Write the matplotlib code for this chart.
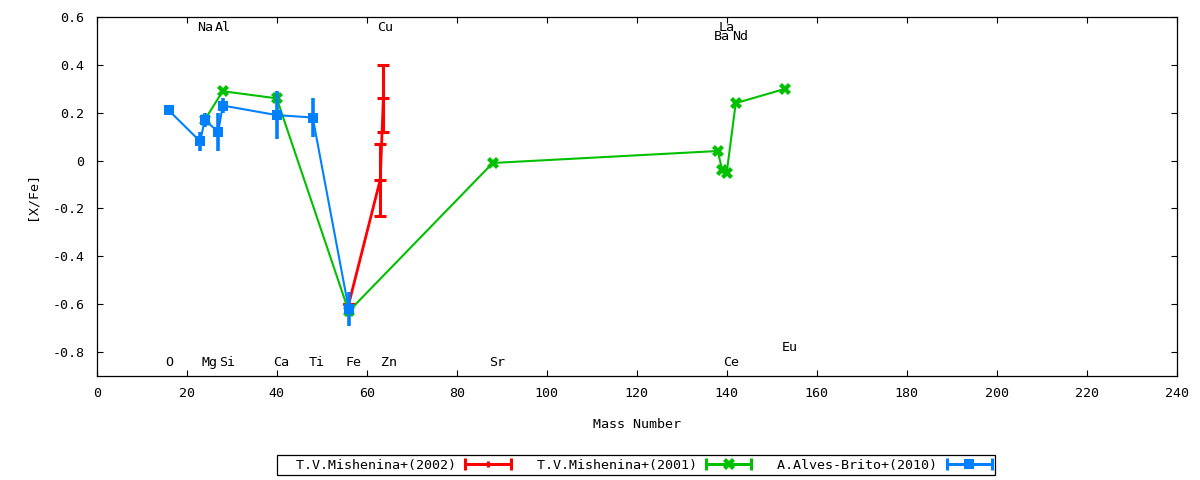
import numpy as np
import matplotlib
matplotlib.use("Agg")
import matplotlib.pyplot as plt
from matplotlib.lines import Line2D
from matplotlib.legend_handler import HandlerLine2D, HandlerTuple

RED = "#FF0000"
GREEN = "#00C000"
BLUE = "#0080FF"
FONT = "DejaVu Sans Mono"
FS = 9.6

plt.rcParams.update({
    "font.family": FONT,
    "font.size": FS,
    "axes.unicode_minus": False,
})

# ---- data -------------------------------------------------------------------
# T.V.Mishenina+(2002)
mish02_mass = [56, 63.0, 63.7]
mish02_xfe = [-0.60, -0.08, 0.26]
mish02_err = [0.0, 0.15, 0.14]

# T.V.Mishenina+(2001)
mish01_mass = [24, 28, 40, 56, 88, 138, 139, 140, 142, 153]
mish01_xfe = [0.17, 0.29, 0.26, -0.63, -0.01, 0.04, -0.04, -0.05, 0.24, 0.30]

# A.Alves-Brito+(2010)
alves_mass = [16, 23, 24, 27, 28, 40, 48, 56]
alves_xfe = [0.21, 0.08, 0.17, 0.12, 0.23, 0.19, 0.18, -0.62]
alves_err = [0.0, 0.04, 0.03, 0.08, 0.03, 0.10, 0.08, 0.07]

# element labels (name, mass number)
elem_names = ["O", "Na", "Mg", "Al", "Si", "Ca", "Ti", "Fe", "Cu", "Zn",
              "Sr", "Ba", "La", "Ce", "Nd", "Eu"]
elem_mass = [16, 23, 24, 27, 28, 40, 48, 56, 63, 64, 88, 138, 139, 140, 142, 153]
# vertical placement of each label (staggered like the original)
label_y = {"Na": 0.558, "Al": 0.558, "Cu": 0.558, "La": 0.558,
           "Ba": 0.517, "Nd": 0.517, "Eu": -0.783}
label_y_default = -0.842

fig = plt.figure(figsize=(12, 4.8), dpi=100)
ax = fig.add_axes([0.0806, 0.2167, 0.9, 0.7479])

ax.errorbar(mish02_mass, mish02_xfe, yerr=mish02_err, color=RED, lw=2.0,
            marker="_", ms=8, mew=2.2, elinewidth=2.2, capsize=4,
            capthick=2.2, zorder=2)
ax.plot(mish01_mass, mish01_xfe, color=GREEN, lw=1.5, marker="X", ms=8,
        mew=0, zorder=3)
ax.errorbar(alves_mass, alves_xfe, yerr=alves_err, color=BLUE, lw=1.5,
            marker="s", ms=7.5, mew=0, elinewidth=2.6, capsize=4,
            capthick=2.6, zorder=4)

for name, m in zip(elem_names, elem_mass):
    ax.annotate(name, xy=(m, label_y.get(name, label_y_default)),
                xytext=(-2.5, 0), textcoords="offset points",
                ha="left", va="center", fontsize=FS)

ax.set_xlim(0, 240)
ax.set_ylim(-0.9, 0.6)
ax.set_xticks(np.arange(0, 241, 20))
yt = np.round(np.arange(-0.8, 0.61, 0.2), 1)
ax.set_yticks(yt)
ax.set_yticklabels(["0" if abs(v) < 1e-9 else f"{v:g}" for v in yt])
ax.tick_params(direction="in", top=True, right=True, length=4.5,
               width=0.8, labelsize=FS)
ax.tick_params(axis="x", pad=8)
ax.tick_params(axis="y", pad=9)
for sp in ax.spines.values():
    sp.set_linewidth(0.9)

ax.set_xlabel("Mass Number")
ax.set_ylabel("[X/Fe]")
ax.xaxis.set_label_coords(0.5, -0.117)
ax.yaxis.set_label_coords(-0.054, 0.5)


# legend handles: horizontal line with caps at both ends, marker in middle
def handle(color, lw, mk, ms):
    bar = Line2D([], [], color=color, lw=lw, marker="|", ms=9, mew=lw)
    pt = Line2D([], [], color=color, ls="none", marker=mk, ms=ms,
                mew=lw if mk == "|" else 0)
    return bar, pt


handles = [handle(RED, 2.2, "|", 5),
           handle(GREEN, 2.2, "X", 8),
           handle(BLUE, 2.2, "s", 7.5)]
hmap = {tuple: HandlerTuple(ndivide=1, pad=0)}
for bar, pt in handles:
    hmap[bar] = HandlerLine2D(numpoints=2, marker_pad=0)
    hmap[pt] = HandlerLine2D(numpoints=1)

leg = fig.legend(handles,
                 ["  T.V.Mishenina+(2002)", "  T.V.Mishenina+(2001)",
                  "  A.Alves-Brito+(2010)"],
                 handler_map=hmap,
                 loc="center", bbox_to_anchor=(0.53, 0.031), ncol=3,
                 markerfirst=False, handlelength=3.4, handletextpad=0.7,
                 columnspacing=0.75, borderpad=0.25, fancybox=False,
                 framealpha=1, edgecolor="black", fontsize=FS)
leg.get_frame().set_linewidth(0.9)

fig.savefig("out.png", dpi=100)
